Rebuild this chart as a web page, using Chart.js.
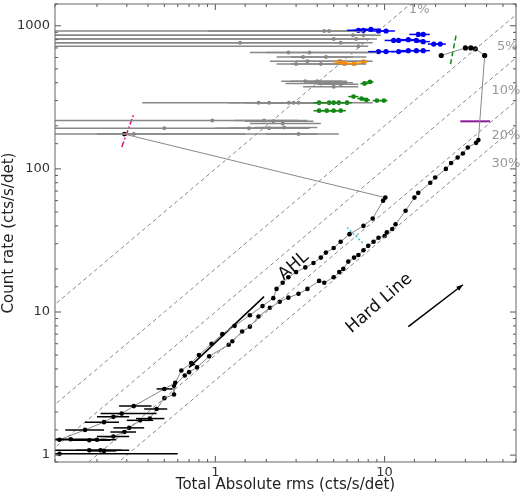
<!DOCTYPE html>
<html><head><meta charset="utf-8">
<script src="https://cdn.jsdelivr.net/npm/chart.js@4.4.0/dist/chart.umd.min.js"></script>
<style>html,body{margin:0;padding:0;background:#fff}#c{display:block}</style>
</head><body><canvas id="c" width="520" height="496"></canvas>
<script>
// [x, y, xlo, xhi]
const grayPts = [
 [4.4,920,0.113,7.0],[4.7,920,0.9,7.5],[6.5,860,0.113,8.5],[7.5,860,0.113,9.5],
 [5.0,810,0.113,8.0],[6.8,810,0.113,9.0],[1.4,760,0.113,7.5],[5.5,760,0.113,8.5],[7.0,720,0.113,8.0],
 [2.7,650,1.6,9.0],[3.6,650,2.0,8.0],[3.3,605,2.3,7.8],[4.5,605,2.8,6.5],
 [3.5,565,2.1,8.0],[5.5,565,3.0,8.5],[3.0,540,2.3,7.8],[4.2,540,2.8,7.0],
 [3.4,410,2.45,5.6],[4.0,410,2.8,6.0],[5.0,400,3.5,6.5],[4.2,395,2.6,6.0],[5.5,390,4.0,7.0],[5.0,375,3.3,7.0],
 [1.8,290,0.37,8.5],[2.08,290,1.2,4],[2.72,290,1.5,5],[2.9,290,1.8,5.5],[3.1,290,2,6],
 [0.96,218,0.113,3.1],[1.94,218,1.3,3.5],[2.2,215,1.5,3.8],[2.5,208,1.6,4.2],
 [0.5,192,0.113,3.5],[1.58,192,1.0,3.0],[2.08,192,1.2,3.6],[2.55,195,1.7,4.0],
 [0.29,175,0.113,5.36],[0.33,175,0.2,1.5],[3.1,175,2.0,4.0]
];
const bluePts = [
 [7.0,930,6,8],[7.5,930,6.5,8.5],[8.3,945,7,9.5],[9.2,920,8,10.5],[10.2,920,9,11.5],[15.8,870,14,17.5],[16.9,870,15.5,18.5],
 [11.3,790,10,12.5],[12.1,790,11,13.5],[13.8,800,12.5,15],[15.4,790,14,17],[16.9,775,15.5,18.5],[19.5,745,18,21],[21.3,745,20,23],
 [9.2,660,8,10.5],[10.2,660,9,11.5],[12.1,660,11,13.5],[13.8,670,12.5,15],[15.4,670,14,17],[16.9,670,15.5,18.5]
];
const orangePts = [[5.4,560,5,6],[5.8,545,5.3,6.3],[6.6,545,6,7.2],[7.5,560,7,8]];
const greenPts = [
 [7.6,395,7.2,8],[8.2,405,7.8,8.6],
 [6.55,320,6.1,7],[7.3,310,6.9,7.7],[7.8,303,7.4,8.2],[9.0,300,8.5,9.5],[9.9,300,9.4,10.4],
 [4.1,290,3.8,4.4],[4.7,290,4.4,5],[5.0,290,4.7,5.3],[5.36,290,5,5.7],[6.0,290,5.6,6.4],
 [4.1,255,3.8,4.4],[4.55,255,4.2,4.9],[5.0,255,4.7,5.3],[5.5,255,5.1,5.9]
];
const blackTop = [[21.6,620],[30,700],[32.3,700],[34.3,690],[39,620]];
const hardLine = [[39,620],[35.8,159],[34.7,152],[31,141],[29,128],[27,120],[24.7,110],[23,100],[19.9,87],[18.6,80],[15.8,68],[15,63],[13.3,51],[11.6,41],[11.1,38],[10.3,36],[10,34],[9.2,33],[8.6,31],[8,29],[7.5,27],[7,25],[6.6,24],[6.1,22.5],[5.7,20],[5.4,19],[5,17.5],[4.4,16],[4.1,16.5],[3.5,14.5],[3.1,13.4],[2.7,12.6],[2.4,11.8],[2.1,10.7],[1.8,9.3],[1.6,7.9],[1.44,7.3],[1.26,6.25],[1.2,5.9],[0.92,4.9],[0.78,4.1],[0.70,3.8],[0.66,3.6],[0.57,3.05],[0.57,2.65],[0.5,2.5],[0.45,2.1,0.38,0.52],[0.41,1.8,0.34,0.5],[0.36,1.75,0.3,0.43],[0.31,1.55,0.25,0.38],[0.29,1.45,0.24,0.34],[0.25,1.35,0.2,0.31],[0.2,1.28,0.15,0.26],[0.18,1.27,0.14,0.24],[0.14,1.29,0.113,0.2]];
const ahlBranch = [[0.29,175],[10.1,63],[9.8,60],[8.5,45],[7.5,40],[6.2,35],[5.5,31],[5,28],[4.5,26],[4.2,24],[3.8,22],[3.4,20.5],[3.0,19],[2.7,17.5],[2.5,16],[2.3,14.5],[2.2,12.5],[1.9,11],[1.6,9.5],[1.3,8],[1.1,7],[0.95,6],[0.8,5],[0.72,4.4],[0.63,3.9],[0.58,3.2],[0.5,2.9,0.45,0.56],[0.33,2.2,0.27,0.42],[0.28,1.95,0.21,0.45],[0.25,1.85,0.2,0.31],[0.22,1.7,0.17,0.27],[0.17,1.5,0.13,0.22],[0.12,1.28,0.113,0.17]];
const lowPts = [[0.18,1.08,0.113,0.31],[0.21,1.08,0.15,0.28],[0.22,1.07,0.18,0.26],[0.12,1.02,0.113,0.6]];
const fracs = [0.01,0.05,0.1,0.2,0.3];
const fracLabels = ['1%','5%','10%','20%','30%'];
const fracLabelPos = [[16,1300],[53,720],[52,350],[52,170],[52,108]];
const rmsRange = [0.1,60];
const markMagenta = [[0.28,142],[0.33,242]];
const markGreen = [[24.5,540],[26.5,873]];
const markPurple = [[28,215],[42,215]];
const markCyan = [[6,39],[7.5,30]];
const arrowAHL = [[1.94,12.8],[0.7,4.1]];
const arrowHard = [[13.8,7.9],[29,15.5]];
const xTickLabels = [1,10];
const yTickLabels = [1,10,100,1000];

const P = a => a.map(p => ({x:p[0], y:p[1], xl:p[2], xh:p[3]}));
const ds = [];
fracs.forEach(f => ds.push({data:rmsRange.map(r=>({x:r,y:r/f})), showLine:true, borderColor:'#888', borderWidth:1, borderDash:[4,3], pointRadius:0, errColor:null}));
ds.push({data:P(ahlBranch), showLine:true, borderColor:'#888', borderWidth:1, pointRadius:2.3, pointBackgroundColor:'#000', pointBorderWidth:0, errColor:'#000'});
ds.push({data:P(hardLine), showLine:true, borderColor:'#888', borderWidth:1, pointRadius:2.3, pointBackgroundColor:'#000', pointBorderWidth:0, errColor:'#000'});
ds.push({data:P(lowPts), showLine:false, pointRadius:2.3, pointBackgroundColor:'#000', pointBorderWidth:0, errColor:'#000'});
ds.push({data:P(grayPts), showLine:false, pointRadius:2, pointBackgroundColor:'#888', pointBorderWidth:0, errColor:'#888'});
ds.push({data:P(blackTop), showLine:true, borderColor:'#888', borderWidth:1, pointRadius:2.6, pointBackgroundColor:'#000', pointBorderWidth:0});
ds.push({data:P(bluePts), showLine:false, pointRadius:2.6, pointBackgroundColor:'#0000ee', pointBorderWidth:0, errColor:'#0000ee'});
ds.push({data:P(orangePts), showLine:false, pointRadius:2.6, pointBackgroundColor:'#ff8c00', pointBorderWidth:0, errColor:'#ff8c00'});
ds.push({data:P(greenPts), showLine:false, pointRadius:2.4, pointBackgroundColor:'#118811', pointBorderWidth:0, errColor:'#118811'});
const mk = (d,c,dash,w) => ds.push({data:P(d), showLine:true, borderColor:c, borderWidth:w, borderDash:dash, pointRadius:0});
mk(markMagenta,'#e0107a',[6,2,2,2],1.5);
mk(markGreen,'#118811',[5,3],1.5);
mk(markPurple,'#8a1a9a',[],2);
mk(markCyan,'#33cccc',[2,2],1.5);
mk(arrowAHL,'#000',[],1.5);
mk(arrowHard,'#000',[],1.5);

const isPow = v => Math.abs(Math.log10(v) - Math.round(Math.log10(v))) < 1e-6;
const plug = {
 id:'extras',
 afterDatasetsDraw(ch){
  const c = ch.ctx, xs = ch.scales.x, ys = ch.scales.y, a = ch.chartArea;
  c.save(); c.beginPath(); c.rect(a.left,a.top,a.right-a.left,a.bottom-a.top); c.clip();
  ch.data.datasets.forEach(d => { if(!d.errColor) return;
   c.strokeStyle = d.errColor; c.lineWidth = 1.5;
   d.data.forEach(p => { if(p.xl==null) return; const py = ys.getPixelForValue(p.y);
    c.beginPath(); c.moveTo(xs.getPixelForValue(p.xl),py); c.lineTo(xs.getPixelForValue(p.xh),py); c.stroke(); });
  });
  [arrowAHL, arrowHard].forEach(ar => {
   const x0=xs.getPixelForValue(ar[0][0]), y0=ys.getPixelForValue(ar[0][1]), x1=xs.getPixelForValue(ar[1][0]), y1=ys.getPixelForValue(ar[1][1]);
   const an = Math.atan2(y1-y0,x1-x0); c.fillStyle='#000'; c.beginPath(); c.moveTo(x1,y1);
   c.lineTo(x1-7*Math.cos(an-0.35), y1-7*Math.sin(an-0.35)); c.lineTo(x1-7*Math.cos(an+0.35), y1-7*Math.sin(an+0.35)); c.fill();
  });
  c.restore();
  c.save(); c.font = '13px "DejaVu Sans"'; c.fillStyle = '#999'; c.textAlign='center'; c.textBaseline='middle';
  fracLabels.forEach((t,i)=> c.fillText(t, xs.getPixelForValue(fracLabelPos[i][0]), ys.getPixelForValue(fracLabelPos[i][1])));
  c.fillStyle='#111'; c.font='17px "DejaVu Sans"';
  const rot = (t,x,y) => { c.save(); c.translate(xs.getPixelForValue(x), ys.getPixelForValue(y)); c.rotate(-0.72); c.fillText(t,0,0); c.restore(); };
  rot('AHL', 2.9, 21); rot('Hard Line', 9.3, 11.5);
  c.restore();
  c.save(); c.strokeStyle='#555'; c.lineWidth=1;
  xs.ticks.forEach(t => { const px = xs.getPixelForValue(t.value); const L = isPow(t.value)?6:3;
   c.beginPath(); c.moveTo(px,a.bottom); c.lineTo(px,a.bottom-L); c.moveTo(px,a.top); c.lineTo(px,a.top+L); c.stroke(); });
  ys.ticks.forEach(t => { const py = ys.getPixelForValue(t.value); const L = isPow(t.value)?6:3;
   c.beginPath(); c.moveTo(a.left,py); c.lineTo(a.left+L,py); c.moveTo(a.right,py); c.lineTo(a.right-L,py); c.stroke(); });
  c.strokeStyle='#666'; c.strokeRect(a.left,a.top,a.right-a.left,a.bottom-a.top);
  c.restore();
 }
};
const lbl = arr => (v => arr.some(t => Math.abs(t-v)<1e-9) ? String(v) : '');
new Chart(document.getElementById('c'), {
 type:'scatter',
 data:{datasets:ds},
 options:{responsive:false, animation:false, devicePixelRatio:1,
  layout:{padding:{top:1,right:2,left:0,bottom:0}},
  plugins:{legend:{display:false}, tooltip:{enabled:false}},
  scales:{
   x:{type:'logarithmic', min:0.113, max:59.7,
      grid:{display:false, drawTicks:false}, border:{display:false},
      ticks:{autoSkip:false, maxRotation:0, callback:lbl(xTickLabels), font:{family:'DejaVu Sans',size:13}, color:'#333', padding:3},
      title:{display:true, text:'Total Absolute rms (cts/s/det)', font:{family:'DejaVu Sans',size:15}, color:'#222', padding:{top:0,bottom:2}},
      afterFit(s){ s.height = 34; s.paddingLeft = 0; s.paddingRight = 0; }},
   y:{type:'logarithmic', min:0.895, max:1420,
      grid:{display:false, drawTicks:false}, border:{display:false},
      ticks:{autoSkip:false, callback:lbl(yTickLabels), font:{family:'DejaVu Sans',size:13}, color:'#333', padding:5},
      title:{display:true, text:'Count rate (cts/s/det)', font:{family:'DejaVu Sans',size:15}, color:'#222', padding:{top:0,bottom:4}},
      afterFit(s){ s.width = 55; s.paddingTop = 0; s.paddingBottom = 0; }}
  }
 },
 plugins:[plug]
});
</script></body></html>
